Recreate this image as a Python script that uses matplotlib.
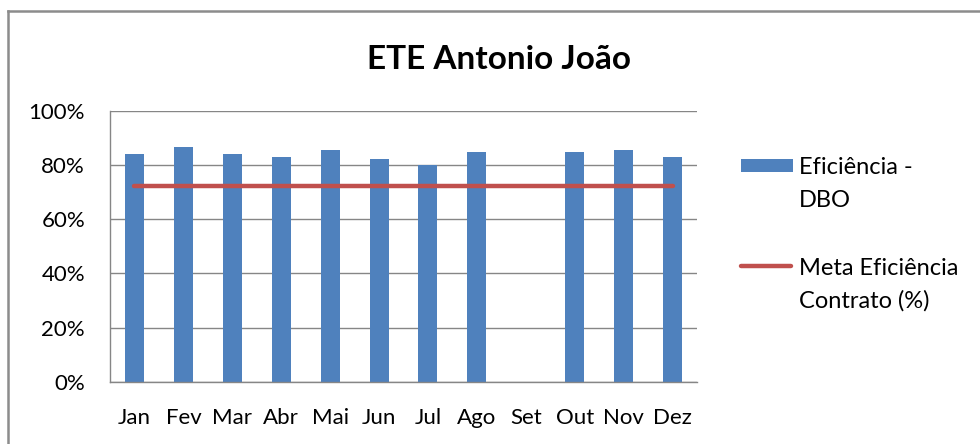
import matplotlib
matplotlib.use("Agg")
import matplotlib.pyplot as plt
from matplotlib.patches import Rectangle
from matplotlib.lines import Line2D
import numpy as np

months = ["Jan", "Fev", "Mar", "Abr", "Mai", "Jun", "Jul", "Ago", "Set", "Out", "Nov", "Dez"]
eficiencia = [84.0, 86.8, 84.0, 83.0, 85.5, 82.1, 80.1, 84.8, np.nan, 84.8, 85.5, 83.0]
meta = [72.4] * 12
yticks = [0, 20, 40, 60, 80, 100]
title = "ETE Antonio João"
label_bar_lines = ["Eficiência -", "DBO"]
label_line_lines = ["Meta Eficiência", "Contrato (%)"]

plt.rcParams['font.family'] = ['Lato', 'DejaVu Sans']

BLUE = "#4F81BD"
RED = "#C0504D"
GRID = "#868686"

W, H = 980, 444
fig = plt.figure(figsize=(W / 100, H / 100), dpi=100)
left, right, top, bottom = 110, 697, 110.7, 382
ax = fig.add_axes([left / W, 1 - bottom / H, (right - left) / W, (bottom - top) / H])

x = np.arange(len(months))
ax.bar(x, eficiencia, width=0.39, color=BLUE, zorder=2)
ax.plot(x, meta, color=RED, linewidth=3.2, solid_capstyle="round", zorder=3)

ax.set_xlim(-0.5, len(months) - 0.5)
ax.set_ylim(0, 100)
ax.set_yticks(yticks)
ax.set_yticklabels([f"{t}%" for t in yticks], fontsize=16)
ax.set_xticks(x)
ax.set_xticklabels(months, fontsize=16)
ax.tick_params(axis="x", length=0, pad=19)
ax.tick_params(axis="y", length=0, pad=18)
ax.yaxis.grid(True, color=GRID, linewidth=1.0, zorder=0)
ax.set_axisbelow(True)
for s in ["top", "right"]:
    ax.spines[s].set_visible(False)
for s in ["left", "bottom"]:
    ax.spines[s].set_color(GRID)
    ax.spines[s].set_linewidth(1.0)

fig.text(0.5 * (368 + 630) / W, 1 - 69 / H, title, ha="center", va="baseline",
         fontsize=24, fontweight="bold")

# Legend (manual)
fig.patches.append(Rectangle((741 / W, 1 - 172.3 / H), 52 / W, 13.3 / H,
                             transform=fig.transFigure, facecolor=BLUE, edgecolor="none"))
for i, t in enumerate(label_bar_lines):
    fig.text(799 / W, 1 - (174 + 33 * i) / H, t, ha="left", va="baseline", fontsize=17)
fig.lines.append(Line2D([741 / W, 791 / W], [1 - 266 / H, 1 - 266 / H],
                        transform=fig.transFigure, color=RED, linewidth=3.2,
                        solid_capstyle="round"))
for i, t in enumerate(label_line_lines):
    fig.text(799 / W, 1 - (275 + 33 * i) / H, t, ha="left", va="baseline", fontsize=17)

# Outer chart border (top and left visible)
fig.lines.append(Line2D([8 / W, 8 / W], [0, 1 - 11 / H], transform=fig.transFigure,
                        color="#8C8C8C", linewidth=1.8, solid_capstyle="projecting"))
fig.lines.append(Line2D([8 / W, 1], [1 - 11 / H, 1 - 11 / H], transform=fig.transFigure,
                        color="#8C8C8C", linewidth=1.8, solid_capstyle="projecting"))

fig.savefig("out.png", dpi=100)
